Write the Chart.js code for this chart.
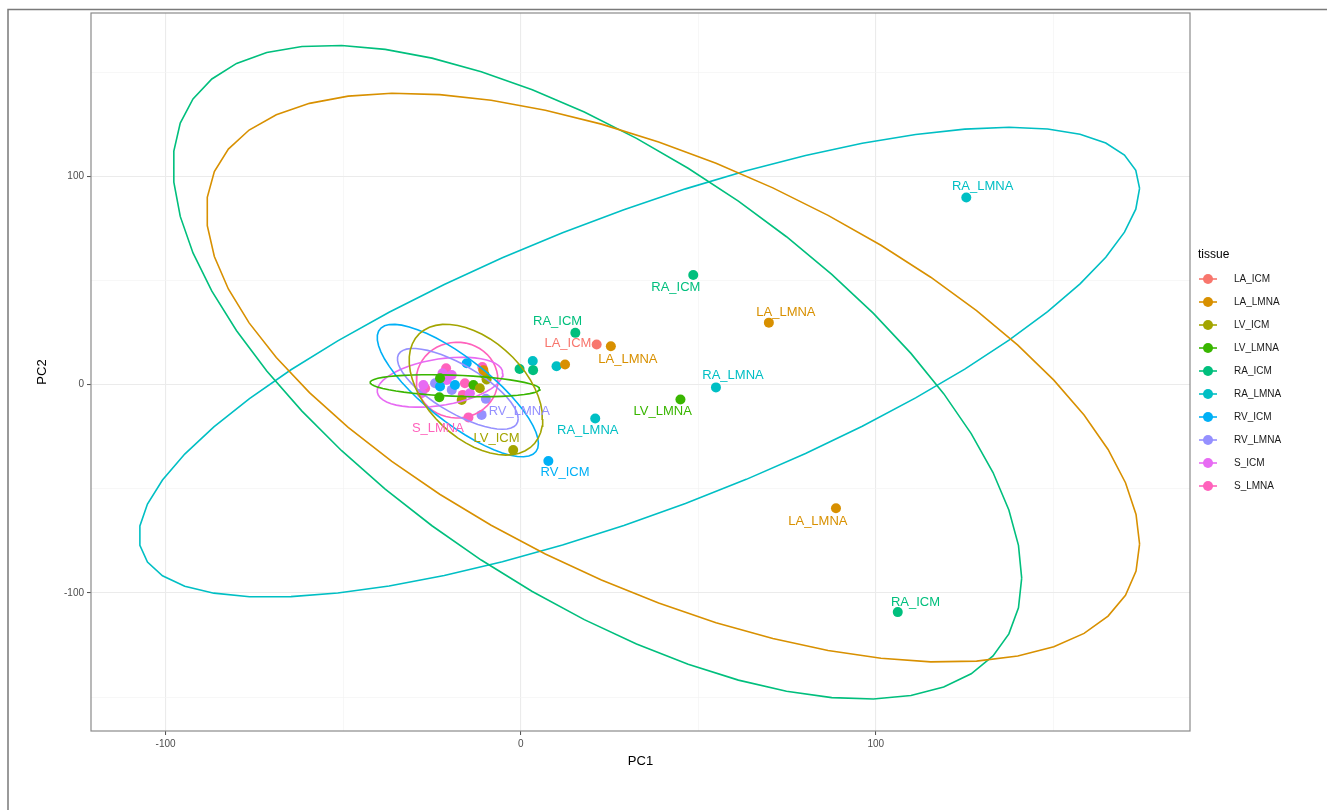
<!DOCTYPE html>
<html>
<head>
<meta charset="utf-8">
<script src="https://cdn.jsdelivr.net/npm/chart.js@4.4.1/dist/chart.umd.min.js"></script>
<style>
  html, body { margin:0; padding:0; background:#fff; }
  #wrap { position:relative; width:1327px; height:810px; }
</style>
</head>
<body>
<div id="wrap"><canvas id="pca" width="1327" height="810"></canvas></div>
<script>
'use strict';

const tissues = ['LA_ICM','LA_LMNA','LV_ICM','LV_LMNA','RA_ICM','RA_LMNA','RV_ICM','RV_LMNA','S_ICM','S_LMNA'];
const colours = ['#F8766D','#D89000','#A3A500','#39B600','#00BF7D','#00BFC4','#00B0F6','#9590FF','#E76BF3','#FF62BC'];

// samples, [PC1, PC2]
const laIcm  = [[21.4,19.3]];
const laLmna = [[69.9,29.8],[25.4,18.5],[12.5,9.7],[88.8,-59.3],[-10.5,7.0]];
const lvIcm  = [[-2.1,-31.4],[-9.6,2.5],[-11.5,-1.7],[-16.6,-7.3],[-10.2,5.0]];
const lvLmna = [[45.0,-7.1],[-22.7,3.1],[-22.9,-6.0],[-13.3,-0.1]];
const raIcm  = [[48.6,52.7],[15.4,24.9],[3.5,7.0],[-0.3,7.5],[106.2,-109.2]];
const raLmna = [[125.5,89.9],[55.0,-1.3],[21.0,-16.2],[3.4,11.4],[10.1,8.9]];
const rvIcm  = [[7.8,-36.6],[-15.2,10.3],[-22.7,-0.9],[-18.5,-0.1]];
const rvLmna = [[-24.1,0.7],[-19.4,-2.5],[-9.8,-6.8],[-11.0,-14.5]];
const sIcm   = [[-20.8,2.3],[-19.4,4.7],[-27.4,-0.1],[-27.9,-4.1],[-14.3,-4.1],[-22.0,5.5]];
const sLmna  = [[-21.0,7.9],[-15.7,0.7],[-16.3,-4.9],[-10.8,8.5],[-14.7,-15.7],[-26.9,-1.7]];
const samples = [laIcm, laLmna, lvIcm, lvLmna, raIcm, raLmna, rvIcm, rvLmna, sIcm, sLmna];

// confidence ellipses per tissue: centre, half width, half height, correlation (none for LA_ICM)
const ellCx  = [null, 42.9, -12.6, -18.5, 21.6, 33.4, -17.7, -17.7, -22.7, -17.9];
const ellCy  = [null,  3.4,  -2.4,  -0.5,  6.0, 10.8,  -2.8,  -2.0,   1.2,   2.2];
const ellW   = [null, 131.4, 18.8, 23.9, 119.5, 140.9, 22.7, 17.0, 17.7, 11.5];
const ellH   = [null, 136.6, 31.4,  5.3, 157.0, 112.8, 31.8, 19.4, 12.0, 18.2];
const ellRho = [null, -0.585, -0.45, -0.3, -0.63, 0.74, -0.8, -0.74, 0.35, 0];

// point labels
const labelText = ['RA_LMNA','RA_ICM','LA_LMNA','RA_ICM','LA_ICM','LA_LMNA','RA_LMNA','LV_LMNA','RA_LMNA','RV_ICM','LV_ICM','RV_LMNA','S_LMNA','LA_LMNA','RA_ICM'];
const labelX = [130.1, 43.7, 74.7, 10.4, 13.3, 30.2, 59.8, 40.0, 18.9, 12.5, -6.8, -0.4, -23.3, 83.7, 111.2];
const labelY = [ 95.3, 46.8, 34.8, 30.4, 19.6, 12.2,  4.3, -12.6, -21.9, -42.2, -25.8, -13.0, -20.9, -65.5, -104.4];

const xTicks = [-100,-50,0,50,100,150];
const yTicks = [-150,-100,-50,0,50,100,150];
const majorTicks = [-100,0,100];

const FONT = "'Liberation Sans', Arial, sans-serif";

function ellipsePath(i){
  if (ellCx[i] === null) return [];
  const phi = Math.acos(ellRho[i]);
  const pts = [];
  for (let k = 0; k <= 51; k++){
    const t = k / 51 * 2 * Math.PI;
    pts.push({x: ellCx[i] + ellW[i] * Math.cos(t), y: ellCy[i] + ellH[i] * Math.cos(t - phi)});
  }
  return pts;
}

const datasets = [];
tissues.forEach((name, i) => {
  datasets.push({
    label: name,
    data: samples[i].map(p => ({x: p[0], y: p[1]})),
    pointRadius: 5,
    pointHoverRadius: 5,
    pointBackgroundColor: colours[i],
    pointBorderWidth: 0,
    showLine: false,
    order: 1
  });
  datasets.push({
    label: name + ' ellipse',
    data: ellipsePath(i),
    showLine: true,
    pointRadius: 0,
    borderColor: colours[i],
    borderWidth: 1.6,
    tension: 0,
    fill: false,
    order: 0
  });
});

const isMajor = v => majorTicks.includes(v);

const ggExtras = {
  id: 'ggExtras',
  afterDatasetsDraw(chart){
    const {ctx, chartArea: a, scales} = chart;
    ctx.save();
    // text labels next to points
    ctx.font = '13px ' + FONT;
    ctx.textAlign = 'center';
    ctx.textBaseline = 'middle';
    labelText.forEach((t, i) => {
      ctx.fillStyle = colours[tissues.indexOf(t)];
      ctx.fillText(t, scales.x.getPixelForValue(labelX[i]), scales.y.getPixelForValue(labelY[i]));
    });
    // panel border
    ctx.strokeStyle = '#8a8a8a';
    ctx.lineWidth = 1.2;
    ctx.strokeRect(a.left, a.top, a.right - a.left, a.bottom - a.top);
    ctx.restore();
  },
  afterDraw(chart){
    const {ctx, chartArea: a} = chart;
    ctx.save();
    // outer frame
    ctx.strokeStyle = '#7a7a7a';
    ctx.lineWidth = 1.5;
    ctx.strokeRect(8, 9.5, 1400, 900);
    // legend
    const lx = a.right + 9;
    ctx.fillStyle = '#000';
    ctx.font = '12px ' + FONT;
    ctx.textAlign = 'left';
    ctx.textBaseline = 'middle';
    ctx.fillText('tissue', lx - 1, 255);
    ctx.font = '10px ' + FONT;
    tissues.forEach((name, i) => {
      const y = 279 + i * 23;
      ctx.strokeStyle = colours[i];
      ctx.lineWidth = 1.6;
      ctx.beginPath();
      ctx.moveTo(lx, y);
      ctx.lineTo(lx + 18, y);
      ctx.stroke();
      ctx.fillStyle = colours[i];
      ctx.beginPath();
      ctx.arc(lx + 9, y, 5, 0, 2 * Math.PI);
      ctx.fill();
      ctx.fillStyle = '#1a1a1a';
      ctx.fillText(name, lx + 35, y);
    });
    ctx.restore();
  }
};

function axisOptions(min, max, ticks, title, isX){
  return {
    type: 'linear',
    min: min,
    max: max,
    afterBuildTicks: s => { s.ticks = ticks.map(v => ({value: v})); },
    afterFit: s => { if (isX) s.height = 79; else s.width = 91; },
    ticks: {
      autoSkip: false,
      maxRotation: 0,
      padding: 3,
      color: '#4d4d4d',
      font: {family: FONT, size: 10},
      callback: v => isMajor(v) ? String(v) : ''
    },
    grid: {
      drawTicks: true,
      tickLength: 4,
      tickWidth: 1,
      tickColor: c => isMajor(c.tick.value) ? '#4d4d4d' : 'rgba(0,0,0,0)',
      color: c => isMajor(c.tick.value) ? '#ebebeb' : '#f3f3f3',
      lineWidth: c => isMajor(c.tick.value) ? 1.1 : 0.7
    },
    border: {display: false},
    title: {
      display: true,
      text: title,
      color: '#000',
      font: {family: FONT, size: 13},
      padding: isX ? {top: 0, bottom: 41} : {top: 35, bottom: 0}
    }
  };
}

window.addEventListener('load', () => {
  new Chart(document.querySelector('#pca'), {
    type: 'scatter',
    data: {datasets: datasets},
    options: {
      responsive: false,
      animation: false,
      devicePixelRatio: 1,
      layout: {padding: {left: 0, right: 137, top: 13, bottom: 0}},
      plugins: {legend: {display: false}, tooltip: {enabled: false}},
      scales: {
        x: axisOptions(-121, 188.5, xTicks, 'PC1', true),
        y: axisOptions(-166.3, 178.5, yTicks, 'PC2', false)
      }
    },
    plugins: [ggExtras]
  });
});
</script>
</body>
</html>
